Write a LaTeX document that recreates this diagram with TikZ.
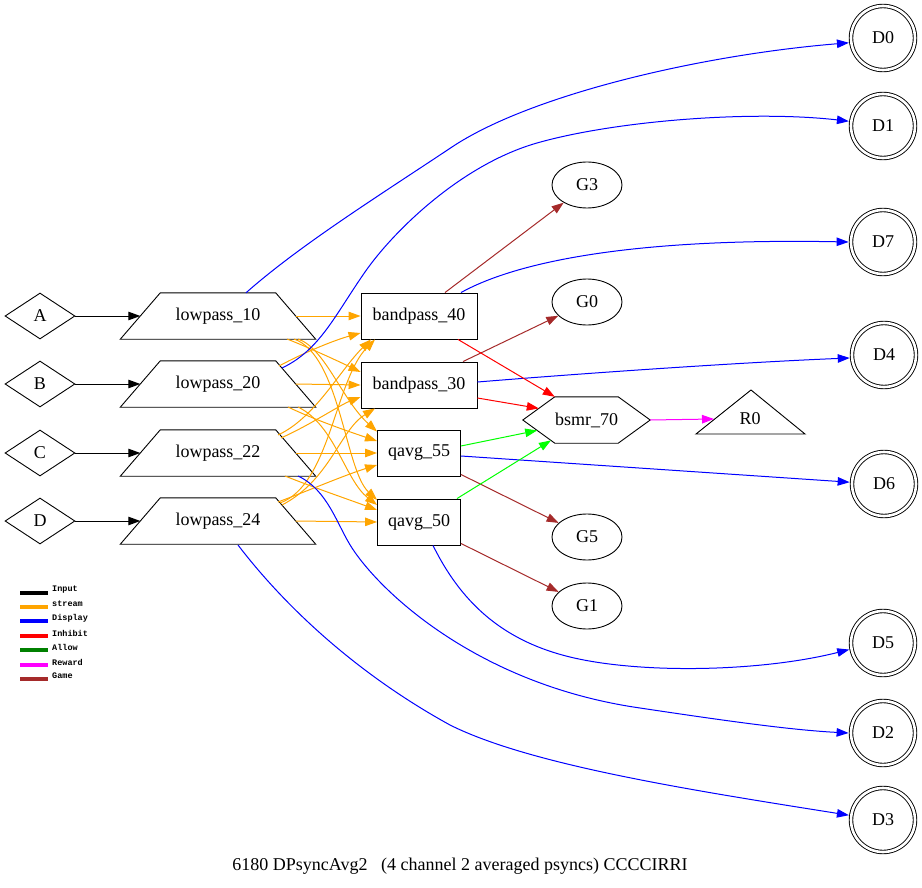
\documentclass[tikz,border=0pt]{standalone}
\usepackage{fontspec}
\setmainfont{Liberation Serif}
\newfontfamily\lblfont{Liberation Serif}
\newfontfamily\legfont{Liberation Mono}
\usetikzlibrary{shapes.geometric,arrows.meta,calc}
\definecolor{cOrange}{HTML}{FFA500}
\definecolor{cBrown}{HTML}{A52A2A}
\definecolor{cGreen}{HTML}{00FF00}
\definecolor{cDkGreen}{HTML}{008000}
\definecolor{cMag}{HTML}{FF00FF}
\begin{document}
\begin{tikzpicture}[x=1pt,y=-1pt,
 lbl/.style={font=\lblfont\fontsize{18}{21}\selectfont},
 nodeline/.style={draw=black, line width=0.9pt},
 inbox/.style={diamond, nodeline, minimum width=70pt, minimum height=46pt, inner sep=0pt, lbl},
 lowbox/.style={rectangle, minimum width=195pt, minimum height=46pt, inner sep=0pt, lbl},
 bpbox/.style={rectangle, nodeline, minimum width=116pt, minimum height=46pt, inner sep=0pt, lbl},
 qbox/.style={rectangle, nodeline, minimum width=83pt, minimum height=46pt, inner sep=0pt, lbl},
 gnode/.style={ellipse, nodeline, minimum width=70pt, minimum height=46pt, inner sep=0pt, lbl},
 dnode/.style={circle, draw=black, line width=0.9pt, double, double distance=2.6pt, minimum size=64pt, inner sep=0pt, outer sep=2.4pt, lbl},
 plain/.style={inner sep=0pt, lbl},
 tip/.style={-{Triangle[length=12pt,width=8.5pt]}},
 ein/.style={tip, line width=1pt, black},
 est/.style={tip, line width=1pt, cOrange},
 edis/.style={tip, line width=1pt, blue},
 einh/.style={tip, line width=1pt, red},
 eal/.style={tip, line width=1pt, cGreen},
 erew/.style={tip, line width=1pt, cMag},
 egame/.style={tip, line width=1pt, cBrown},
 legline/.style={line width=3.5pt},
 legtext/.style={font=\legfont\bfseries\fontsize{8.5}{10}\selectfont, anchor=west, inner sep=0pt},
]
\useasboundingbox (0,0) rectangle (922,888);

% input nodes
\node[inbox] (A) at (40,316) {A};
\node[inbox] (B) at (40,384) {B};
\node[inbox] (C) at (40,453) {C};
\node[inbox] (D) at (40,521) {D};

% lowpass (trapezoids)
\foreach \n/\t/\y in {L10/10/316, L20/20/384, L22/22/453, L24/24/521}{
  \node[lowbox] (\n) at (218,\y) {lowpass\_\t};
  \draw[nodeline] ([xshift=40pt]\n.north west) -- ([xshift=-40pt]\n.north east) -- (\n.south east) -- (\n.south west) -- cycle;
  \coordinate (\n in) at ([xshift=20pt]\n.west);
  \coordinate (\n out) at ([xshift=-20pt]\n.east);
}

% middle
\node[bpbox] (B40) at (419,316) {bandpass\_40};
\node[bpbox] (B30) at (419,385) {bandpass\_30};
\node[qbox] (Q55) at (419,453) {qavg\_55};
\node[qbox] (Q50) at (419,522) {qavg\_50};

% bsmr hexagon
\node[plain, minimum width=127pt, minimum height=46pt] (bsmr) at (586.5,420) {bsmr\_70};
\coordinate (hexTL) at ([xshift=32pt]bsmr.north west);
\coordinate (hexTR) at ([xshift=-32pt]bsmr.north east);
\coordinate (hexBL) at ([xshift=32pt]bsmr.south west);
\coordinate (hexBR) at ([xshift=-32pt]bsmr.south east);
\draw[nodeline] (bsmr.west) -- (hexTL) -- (hexTR) -- (bsmr.east) -- (hexBR) -- (hexBL) -- cycle;

% R0 triangle
\node[plain] (R0) at (750,419) {R0};
\draw[nodeline] ($(R0)+(1,-29)$) -- ($(R0)+(55,15)$) -- ($(R0)+(-54,15)$) -- cycle;
\coordinate (R0in) at ($(R0)+(-36,0)$);

% G nodes
\node[gnode] (G3) at (587,185) {G3};
\node[gnode] (G0) at (587,302) {G0};
\node[gnode] (G5) at (587,537) {G5};
\node[gnode] (G1) at (587,606) {G1};

% D nodes
\node[dnode] (D0) at (883,38) {D0};
\node[dnode] (D1) at (883,126) {D1};
\node[dnode] (D7) at (883,242) {D7};
\node[dnode] (D4) at (884,355) {D4};
\node[dnode] (D6) at (884,484) {D6};
\node[dnode] (D5) at (883,643) {D5};
\node[dnode] (D2) at (883,733) {D2};
\node[dnode] (D3) at (883,820) {D3};

% title
\node[plain] (title) at (460,866) {6180 DPsyncAvg2\ \ \ (4 channel 2 averaged psyncs) CCCCIRRI};

% input edges
\draw[ein] (A) -- (L10in);
\draw[ein] (B) -- (L20in);
\draw[ein] (C) -- (L22in);
\draw[ein] (D) -- (L24in);

% stream edges
\draw[est] (L10out) -- (B40.west);
\draw[est] ($(L10)+(69,23)$) .. controls (310,348) and (340,362) .. ($(B30.west)+(0,-13)$);
\draw[est] ($(L10)+(80,23)$) .. controls (325,348) and (342,400) .. ($(Q55.north west)+(0,2)$);
\draw[est] ($(L10)+(76,23)$) .. controls (340,355) and (345,470) .. ($(Q50.west)+(0,-22)$);

\draw[est] ($(L20)+(61,-18)$) .. controls (305,352) and (335,340) .. ($(B40.west)+(0,17)$);
\draw[est] (L20out) -- (B30.west);
\draw[est] ($(L20)+(70,23)$) .. controls (315,420) and (350,432) .. ($(Q55.west)+(0,-12)$);
\draw[est] ($(L20)+(80,23)$) .. controls (335,425) and (345,480) .. ($(Q50.west)+(0,-17)$);

\draw[est] ($(L22)+(60,-18)$) .. controls (315,418) and (340,370) .. ([xshift=-48pt]B40.south);
\draw[est] ($(L22)+(63,-15)$) .. controls (310,425) and (340,405) .. ($(B30.west)+(0,12)$);
\draw[est] (L22out) -- (Q55.west);
\draw[est] ($(L22)+(67,23)$) .. controls (315,488) and (350,500) .. ($(Q50.west)+(0,-12)$);

\draw[est] ($(L24)+(62,-18)$) .. controls (330,485) and (335,380) .. ([xshift=-44pt]B40.south);
\draw[est] ($(L24)+(64,-16)$) .. controls (330,480) and (340,430) .. ([xshift=-44pt]B30.south);
\draw[est] ($(L24)+(60,-19)$) .. controls (310,490) and (345,475) .. ($(Q55.west)+(0,12)$);
\draw[est] (L24out) -- (Q50.west);

% display edges
\draw[edis] ([xshift=28pt]L10.north) .. controls (300,245) and (380,195) .. (452,147) .. controls (530,95) and (700,55) .. (D0.188);
\draw[edis] ($(L20)+(64,-16)$) .. controls (320,350) and (335,315) .. (365,272) .. controls (392,233) and (460,165) .. (537,143) .. controls (614,121) and (750,110) .. (D1.172);
\draw[edis] ([xshift=42pt]B40.north) .. controls (520,260) and (640,238) .. (D7.west);
\draw[edis] ($(B30.east)+(0,-3)$) .. controls (600,372) and (750,362) .. (D4.185);
\draw[edis] ($(Q55.east)+(0,3)$) -- (D6.177);
\draw[edis] ([xshift=14pt]Q50.south) .. controls (460,600) and (500,640) .. (570,657) .. controls (640,674) and (760,672) .. (D5.191);
\draw[edis] ($(L22)+(80,23)$) .. controls (328,490) and (337,525) .. (352,548) .. controls (382,594) and (480,685) .. (640,708) .. controls (720,720) and (790,730) .. (D2.west);
\draw[edis] ($(L24)+(20,24)$) .. controls (280,600) and (350,670) .. (450,725) .. controls (530,765) and (690,790) .. (D3.172);

% game edges
\draw[egame] ([xshift=26pt]B40.north) -- (G3);
\draw[egame] ([xshift=44pt]B30.north) -- (G0);
\draw[egame] ($(Q55.south east)+(0,-2)$) -- (G5);
\draw[egame] ($(Q50.south east)+(0,-2)$) -- (G1);

% inhibit edges
\draw[einh] ([xshift=39pt]B40.south) -- (hexTL);
\draw[einh] ($(B30.east)+(0,13)$) -- ($(bsmr.west)!0.5!(hexTL)$);

% allow edges
\draw[eal] ($(Q55.east)+(0,-7)$) -- ($(bsmr.west)!0.45!(hexBL)$);
\draw[eal] ([xshift=38pt]Q50.north) -- ($(bsmr.west)!0.88!(hexBL)$);

% reward edge
\draw[erew] (bsmr.east) -- (R0in);

% legend
\draw[legline, black] (20,593) -- (48,593);
\node[legtext] (legIn) at (52,590) {Input};
\draw[legline, cOrange] (20,607) -- (48,607);
\node[legtext] (legSt) at (52,604) {stream};
\draw[legline, blue] (20,621) -- (48,621);
\node[legtext] (legDi) at (52,618) {Display};
\draw[legline, red] (20,636) -- (48,636);
\node[legtext] (legIh) at (52,633) {Inhibit};
\draw[legline, cDkGreen] (20,650) -- (48,650);
\node[legtext] (legAl) at (52,647) {Allow};
\draw[legline, cMag] (20,665) -- (48,665);
\node[legtext] (legRe) at (52,662) {Reward};
\draw[legline, cBrown] (20,679) -- (48,679);
\node[legtext] (legGa) at (52,676) {Game};
\end{tikzpicture}
\end{document}
